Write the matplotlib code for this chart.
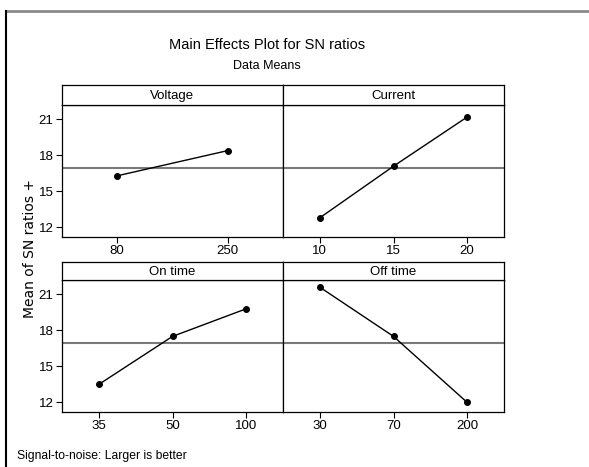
import matplotlib.pyplot as plt
from matplotlib.lines import Line2D

# factor levels and mean SN ratios
factors = ['Voltage', 'Current', 'On time', 'Off time']
levels = {
    'Voltage': ['80', '250'],
    'Current': ['10', '15', '20'],
    'On time': ['35', '50', '100'],
    'Off time': ['30', '70', '200'],
}
sn_means = {
    'Voltage': [16.3, 18.4],
    'Current': [12.8, 17.1, 21.2],
    'On time': [13.5, 17.5, 19.8],
    'Off time': [21.6, 17.5, 12.0],
}
grand_mean = 16.95
y_ticks = [12, 15, 18, 21]

plt.rcParams['font.family'] = ['Liberation Sans', 'DejaVu Sans']

W, H = 589, 467
fig = plt.figure(figsize=(W / 100, H / 100), dpi=100)

def fx(px):
    return px / W

def fy(px):
    return 1 - px / H

# panel boxes in pixels: (left, right), (strip top, strip bottom, data bottom)
cols = [(62, 283), (283, 504)]
rows = [(85, 105, 237), (262, 280, 412)]

for i, name in enumerate(factors):
    r, c = divmod(i, 2)
    x0, x1 = cols[c]
    st, sb, db = rows[r]
    ax = fig.add_axes([fx(x0), fy(db), fx(x1 - x0), (db - sb) / H])
    sax = fig.add_axes([fx(x0), fy(sb), fx(x1 - x0), (sb - st) / H])

    n = len(levels[name])
    xs = list(range(1, n + 1))
    ax.plot(xs, sn_means[name], color='black', lw=1.0, marker='o', ms=4, zorder=3)
    ax.axhline(grand_mean, color='#7a7a7a', lw=1.5, zorder=2)
    ax.set_xlim(0.5, n + 0.5)
    ax.set_ylim(11.2, 22.2)
    ax.set_xticks(xs)
    ax.set_xticklabels(levels[name])
    ax.tick_params(axis='x', direction='out', length=4, width=0.8, labelsize=9.5, pad=2)
    if c == 0:
        ax.set_yticks(y_ticks)
        ax.tick_params(axis='y', direction='out', length=4, width=0.8, labelsize=9.5, pad=2)
    else:
        ax.set_yticks([])
    for sp in ax.spines.values():
        sp.set_linewidth(0.9)

    sax.set_xticks([])
    sax.set_yticks([])
    sax.text(0.5, 0.45, name, ha='center', va='center', fontsize=9.5, transform=sax.transAxes)
    for sp in sax.spines.values():
        sp.set_linewidth(0.9)

fig.text(fx(267), fy(45), 'Main Effects Plot for SN ratios', ha='center', va='center', fontsize=10.5)
fig.text(fx(267), fy(66), 'Data Means', ha='center', va='center', fontsize=9)
fig.text(fx(30), fy(248), 'Mean of SN ratios +', ha='center', va='center',
         rotation=90, fontsize=10, family='DejaVu Sans')
fig.text(fx(17), fy(456), 'Signal-to-noise: Larger is better', ha='left', va='center', fontsize=8.7)

# outer frame
fig.add_artist(Line2D([fx(6), 1], [fy(11), fy(11)], color='#8a8a8a', lw=2))
fig.add_artist(Line2D([fx(6), fx(6)], [0, fy(11)], color='black', lw=1.5))

fig.savefig('out.png', dpi=100)
